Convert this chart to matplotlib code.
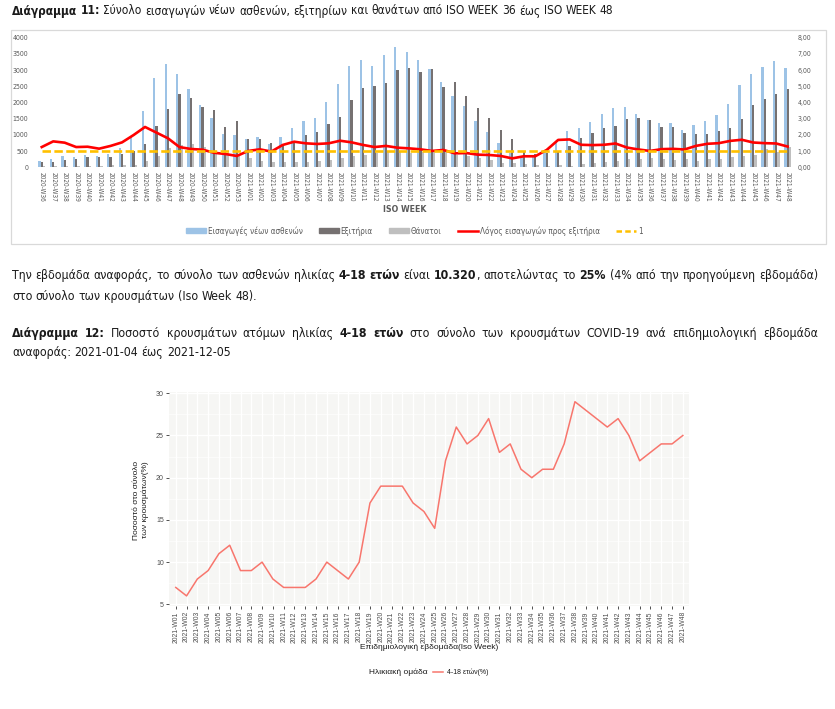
import numpy as np
import matplotlib
matplotlib.use('Agg')
import matplotlib.pyplot as plt
from matplotlib import font_manager
from matplotlib.ft2font import FT2Font
from matplotlib.patches import Rectangle, Patch
from matplotlib.lines import Line2D

# ---------------- data: chart 11 ----------------
weeks1 = [f"2020-W{w}" for w in range(36, 54)] + [f"2021-W{w:02d}" for w in range(1, 49)]

admissions = [205, 257, 350, 329, 390, 360, 421, 596, 966, 1748, 2755, 3187, 2868, 2405, 1933, 1511, 1018, 997,
              864, 925, 720, 925, 1223, 1440, 1530, 2005, 2570, 3125, 3310, 3125, 3454, 3711, 3557, 3300, 3022, 2642,
              2210, 1902, 1429, 1100, 740, 452, 329, 329, 483, 817, 1127, 1210, 1385, 1654, 1830, 1851, 1654, 1468,
              1355, 1355, 1137, 1313, 1437, 1603, 1954, 2544, 2895, 3092, 3278, 3061]
discharges = [175, 175, 236, 267, 319, 329, 329, 401, 504, 720, 1275, 1789, 2272, 2149, 1850, 1758, 1254, 1429,
              874, 864, 750, 680, 790, 987, 1080, 1336, 1563, 2077, 2436, 2508, 2611, 2991, 3063, 2930, 3022, 2477,
              2621, 2190, 1820, 1511, 1141, 864, 483, 401, 432, 507, 662, 889, 1044, 1210, 1282, 1500, 1510, 1458,
              1230, 1230, 1065, 1013, 1034, 1117, 1210, 1500, 1923, 2120, 2275, 2409]
deaths = [50, 25, 45, 40, 40, 40, 60, 60, 70, 195, 360, 596, 689, 709, 627, 514, 432, 350,
          277, 195, 175, 175, 175, 155, 195, 225, 277, 360, 380, 432, 483, 483, 432, 483, 483, 483,
          380, 360, 277, 226, 144, 144, 113, 72, 41, 72, 41, 93, 124, 155, 207, 248, 258, 279,
          269, 227, 248, 207, 258, 258, 331, 362, 393, 579, 486, 641]
ratio = [1.25, 1.60, 1.52, 1.25, 1.27, 1.15, 1.32, 1.54, 1.99, 2.49, 2.14, 1.79, 1.25, 1.13, 1.09, 0.90, 0.82, 0.70,
         1.01, 1.11, 0.97, 1.38, 1.58, 1.48, 1.44, 1.48, 1.64, 1.54, 1.38, 1.25, 1.32, 1.21, 1.17, 1.11, 1.01, 1.07,
         0.86, 0.88, 0.78, 0.76, 0.70, 0.55, 0.68, 0.68, 1.07, 1.69, 1.72, 1.39, 1.37, 1.39, 1.47, 1.22, 1.10, 1.01,
         1.12, 1.14, 1.10, 1.32, 1.45, 1.49, 1.63, 1.70, 1.53, 1.49, 1.47, 1.28]
threshold = 1.0
left_ticks = [0, 500, 1000, 1500, 2000, 2500, 3000, 3500, 4000]
right_ticks = [0, 1, 2, 3, 4, 5, 6, 7, 8]
legend1 = ["Εισαγωγές νέων ασθενών", "Εξιτήρια", "Θάνατοι", "Λόγος εισαγωγών προς εξιτήρια", "1"]

# ---------------- data: chart 12 ----------------
weeks2 = [f"2021-W{w:02d}" for w in range(1, 49)]
pct_4_18 = [7, 6, 8, 9, 11, 12, 9, 9, 10, 8, 7, 7, 7, 8, 10, 9, 8, 10, 17, 19, 19, 19, 17, 16, 14, 22, 26, 24,
            25, 27, 23, 24, 21, 20, 21, 21, 24, 29, 28, 27, 26, 27, 25, 22, 23, 24, 24, 25]
pct_ticks = [5, 10, 15, 20, 25, 30]

assert len(weeks1) == len(admissions) == len(discharges) == len(deaths) == len(ratio) == 66
assert len(weeks2) == len(pct_4_18) == 48

# ---------------- fonts ----------------
ttf = font_manager.fontManager.ttflist


def stretch_val(s):
    if isinstance(s, str):
        return font_manager.stretch_dict.get(s, 500)
    return s


def has_greek(path):
    try:
        cm = FT2Font(path).get_charmap()
        return all(ord(c) in cm for c in 'ΔΕΘΣώλάέίόύήϊ')
    except Exception:
        return False


DOC = {'family': 'Liberation Sans', 'stretch': 'normal'}
cands = []
for f in ttf:
    n = f.name
    if any(k in n for k in ('Mono', 'Serif', 'CJK', 'Math')):
        continue
    sv = stretch_val(f.stretch)
    narrow = ('Narrow' in n or 'Condensed' in n or sv < 500)
    if narrow and f.weight in (400, 'normal', 'regular', 'Regular') and has_greek(f.fname):
        pri = 0 if 'Liberation Sans Narrow' == n else (1 if sv < 500 else 2)
        cands.append((pri, n, sv))
if cands:
    cands.sort()
    _, n, sv = cands[0]
    DOC = {'family': n, 'stretch': sv if sv < 500 else 'normal'}

ARIAL = 'Liberation Sans'
plt.rcParams['font.family'] = [ARIAL, 'DejaVu Sans']

W, H = 835, 709
fig = plt.figure(figsize=(8.35, 7.09), dpi=100)
fig.patch.set_facecolor('white')


def fx(x):
    return x / W


def fy(y):
    return 1 - y / H


renderer = fig.canvas.get_renderer()


def parse(s):
    words, cur, seg, bold = [], [], '', False
    for ch in s:
        if ch == '*':
            if seg:
                cur.append((seg, bold)); seg = ''
            bold = not bold
        elif ch == ' ':
            if seg:
                cur.append((seg, bold)); seg = ''
            if cur:
                words.append(cur); cur = []
        else:
            seg += ch
    if seg:
        cur.append((seg, bold))
    if cur:
        words.append(cur)
    return words


def twidth(text, bold, size):
    t = fig.text(0, 0, text, fontsize=size, family=DOC['family'], fontstretch=DOC['stretch'],
                 fontweight='bold' if bold else 'normal')
    w = t.get_window_extent(renderer).width
    t.remove()
    return w


def space_w(size):
    return twidth('a a', False, size) - twidth('aa', False, size)


def natural_width(s, size):
    words = parse(s)
    tot = sum(twidth(t, b, size) for wd in words for t, b in wd)
    return tot + space_w(size) * (len(words) - 1)


def draw_line(s, x0, ybase, size, width=None, color='#1a1a1a'):
    words = parse(s)
    wws = [[twidth(t, b, size) for t, b in wd] for wd in words]
    tot = sum(sum(w) for w in wws)
    if width is not None and len(words) > 1:
        gap = (width - tot) / (len(words) - 1)
    else:
        gap = space_w(size)
    x = x0
    for wd, ws in zip(words, wws):
        for (t, b), w in zip(wd, ws):
            fig.text(fx(x), fy(ybase), t, fontsize=size, family=DOC['family'], fontstretch=DOC['stretch'],
                     fontweight='bold' if b else 'normal', va='baseline', ha='left', color=color)
            x += w
        x += gap


def fit_size(s, target):
    return 10 * target / natural_width(s, 10)


# ---------------- document text ----------------
title = "*Διάγραμμα 11:* Σύνολο εισαγωγών νέων ασθενών, εξιτηρίων και θανάτων από ISO WEEK 36 έως ISO WEEK 48"
tsize = fit_size(title, 601)
draw_line(title, 12, 14.5, tsize)

p1 = "Την εβδομάδα αναφοράς, το σύνολο των ασθενών ηλικίας *4-18 ετών* είναι *10.320*, αποτελώντας το *25%* (4% από την προηγούμενη εβδομάδα)"
p2 = "στο σύνολο των κρουσμάτων (Iso Week 48)."
psize = fit_size(p2, 245)
draw_line(p1, 12, 279, psize, width=806)
draw_line(p2, 12, 300, psize)

d1 = "*Διάγραμμα 12:* Ποσοστό κρουσμάτων ατόμων ηλικίας *4-18 ετών* στο σύνολο των κρουσμάτων COVID-19 ανά επιδημιολογική εβδομάδα"
d2 = "αναφοράς: 2021-01-04 έως 2021-12-05"
draw_line(d1, 12, 337, psize, width=806)
draw_line(d2, 12, 356, psize)

# ---------------- chart 11 ----------------
fig.patches.append(Rectangle((fx(11), fy(243.5)), fx(826) - fx(11), fy(29.5) - fy(243.5),
                             transform=fig.transFigure, fill=False, edgecolor='#D9D9D9', lw=0.9))

ax = fig.add_axes([fx(36), fy(167.3), fx(793.4) - fx(36), fy(37.7) - fy(167.3)])
x = np.arange(len(weeks1))
c_adm, c_dis, c_dea = '#9DC3E6', '#767171', '#BFBFBF'
ax.bar(x - 0.2, admissions, 0.2, color=c_adm, zorder=2)
ax.bar(x, discharges, 0.2, color=c_dis, zorder=2)
ax.bar(x + 0.2, deaths, 0.2, color=c_dea, zorder=2)
ax.set_xlim(-0.5, len(weeks1) - 0.5)
ax.set_ylim(0, 4000)
ax.set_yticks(left_ticks)
ax.set_yticklabels([str(v) for v in left_ticks], fontsize=5, color='#595959',
                   family=DOC['family'], fontstretch=DOC['stretch'])
ax.set_xticks(x)
ax.set_xticklabels(weeks1, rotation=270, fontsize=4.7, color='#595959',
                   family=DOC['family'], fontstretch=DOC['stretch'])
ax.tick_params(axis='both', length=0)
ax.tick_params(axis='y', pad=5.5)
ax.tick_params(axis='x', pad=3.5)
for s in ax.spines.values():
    s.set_visible(False)
ax.patch.set_alpha(0)

ax2 = ax.twinx()
ax2.plot(x, ratio, color='#FF0000', lw=1.9, zorder=3)
ax2.hlines(threshold, x[0], x[-1], colors='#FFC000', lw=1.9, linestyles=(0, (3.2, 1.3)), zorder=3)
ax2.set_ylim(0, 8)
ax2.set_yticks(right_ticks)
ax2.set_yticklabels([f"{v:.2f}".replace('.', ',') for v in right_ticks], fontsize=5, color='#595959',
                    family=DOC['family'], fontstretch=DOC['stretch'])
ax2.tick_params(axis='y', length=0, pad=3)
for s in ax2.spines.values():
    s.set_visible(False)

fig.text(fx(405), fy(209), 'ISO WEEK', ha='center', va='center', fontsize=6.3, fontweight='bold',
         color='#595959', family=DOC['family'], fontstretch=DOC['stretch'])

handles = [Patch(color=c_adm), Patch(color=c_dis), Patch(color=c_dea),
           Line2D([], [], color='#FF0000', lw=1.8),
           Line2D([], [], color='#FFC000', lw=1.8, linestyle=(0, (2.2, 1.3)))]
fig.legend(handles, legend1, loc='center', bbox_to_anchor=(fx(414), fy(231)), ncol=5, frameon=False,
           prop={'family': DOC['family'], 'stretch': DOC['stretch'], 'size': 5.9}, handlelength=2.45,
           handleheight=0.6, columnspacing=1.95, handletextpad=0.25, labelcolor='#595959')

# ---------------- chart 12 ----------------
bx = fig.add_axes([fx(169.3), fy(605.6), fx(689.3) - fx(169.3), fy(392) - fy(605.6)])
bx.set_facecolor('#F6F6F4')
xs = np.arange(len(weeks2))
bx.plot(xs, pct_4_18, color='#F8766D', lw=1.1, zorder=3)
bx.set_xlim(-0.6, len(weeks2) - 1 + 0.6)
bx.set_ylim(4.85, 30.15)
bx.set_yticks(pct_ticks)
bx.set_yticks([7.5, 12.5, 17.5, 22.5, 27.5], minor=True)
bx.set_yticklabels([str(v) for v in pct_ticks], fontsize=5, color='#4D4D4D', family=ARIAL)
bx.set_xticks(xs)
bx.set_xticklabels(weeks2, rotation=90, fontsize=4.9, color='#4D4D4D', family=ARIAL)
bx.tick_params(axis='both', which='major', length=2.5, width=0.6, color='#333333', pad=1.5)
bx.tick_params(axis='both', which='minor', length=0)
bx.grid(which='major', color='white', lw=0.9)
bx.grid(which='minor', axis='y', color='white', lw=0.45)
bx.set_axisbelow(True)
for s in bx.spines.values():
    s.set_visible(False)

fig.text(fx(141), fy(500), 'Ποσοστό στο σύνολο\nτων κρουσμάτων(%)', rotation=90, ha='center', va='center',
         fontsize=6, family=ARIAL, color='#1a1a1a', multialignment='center', linespacing=1.1)
fig.text(fx(429), fy(647.5), 'Επιδημιολογική εβδομάδα(Iso Week)', ha='center', va='center', fontsize=6,
         family=ARIAL, color='#1a1a1a')

fig.text(fx(428), fy(672), 'Ηλικιακή ομάδα', ha='right', va='center', fontsize=6, family=ARIAL, color='#1a1a1a')
fig.add_artist(Line2D([fx(433), fx(443)], [fy(672), fy(672)], color='#F8766D', lw=1.1,
                      transform=fig.transFigure))
fig.text(fx(447), fy(672), '4-18 ετών(%)', ha='left', va='center', fontsize=5, family=ARIAL, color='#1a1a1a')

fig.savefig('out.png', dpi=100, facecolor='white')
